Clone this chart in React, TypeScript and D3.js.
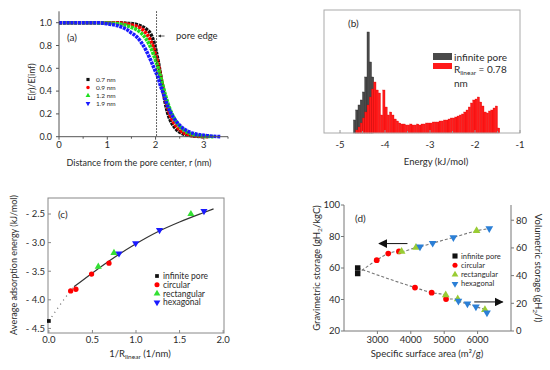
import React from 'react'
import * as d3 from 'd3'

// (a) E(r)/E(inf) against distance from pore center, [r (nm), ratio]
const profile07 = [[0, 1], [0.5, 1], [1, 1], [1.2, 1], [1.4, 0.995], [1.6, 0.985], [1.7, 0.97], [1.8, 0.945], [1.9, 0.9], [1.95, 0.85], [2, 0.77], [2.05, 0.67], [2.1, 0.55], [2.15, 0.42], [2.2, 0.3], [2.25, 0.21], [2.3, 0.15], [2.4, 0.08], [2.5, 0.04], [2.6, 0.02], [2.7, 0.012], [2.8, 0.006], [3.0, 0]]
const profile09 = [[0, 1], [0.5, 1], [1, 1], [1.3, 0.995], [1.5, 0.98], [1.6, 0.97], [1.7, 0.95], [1.8, 0.91], [1.9, 0.84], [1.95, 0.79], [2, 0.72], [2.05, 0.64], [2.1, 0.54], [2.15, 0.44], [2.2, 0.34], [2.25, 0.26], [2.3, 0.19], [2.4, 0.11], [2.5, 0.06], [2.6, 0.03], [2.7, 0.015], [2.8, 0.008], [3.0, 0.002], [3.1, 0]]
const profile12 = [[0, 1], [0.5, 1], [1.1, 0.995], [1.3, 0.985], [1.5, 0.96], [1.6, 0.94], [1.7, 0.91], [1.8, 0.86], [1.9, 0.78], [1.95, 0.73], [2, 0.67], [2.05, 0.61], [2.1, 0.53], [2.15, 0.45], [2.2, 0.37], [2.25, 0.3], [2.3, 0.24], [2.4, 0.15], [2.5, 0.09], [2.6, 0.055], [2.7, 0.03], [2.8, 0.017], [3.0, 0.005], [3.2, 0]]
const profile19 = [[0, 1], [0.8, 1], [1.0, 0.99], [1.2, 0.975], [1.4, 0.94], [1.5, 0.91], [1.6, 0.88], [1.7, 0.83], [1.8, 0.76], [1.9, 0.67], [1.95, 0.62], [2, 0.57], [2.05, 0.52], [2.1, 0.45], [2.15, 0.39], [2.2, 0.33], [2.25, 0.27], [2.3, 0.22], [2.4, 0.15], [2.5, 0.1], [2.6, 0.065], [2.7, 0.042], [2.8, 0.027], [3.0, 0.012], [3.2, 0.004], [3.35, 0]]
const poreLabels = ['0.7 nm', '0.9 nm', '1.2 nm', '1.9 nm']
const poreEdge = 2.02

// (b) energy histograms, bin width 0.05 kJ/mol
const binWidth = 0.05
const infiniteStart = -4.7
const infiniteCounts = [13, 23, 28, 33, 41, 56, 101, 71, 56]
const linearStart = -4.65
const linearCounts = [3, 6, 10, 15, 21, 28, 36, 44, 51, 43, 40, 18, 43, 26, 18, 21, 18, 14, 12, 10, 9, 9, 8, 8, 9, 8, 8, 9, 8, 9, 9, 10, 10, 10, 11, 11, 11, 12, 12, 13, 13, 14, 15, 15, 16, 17, 18, 19, 21, 23, 26, 30, 33, 34, 36, 31, 27, 21, 20, 22, 23, 25, 27, 5]

// (c) average adsorption energy vs 1/R_linear
const infC = [[0, -4.37]]
const circC = [[0.25, -3.845], [0.31, -3.815], [0.49, -3.55], [0.69, -3.36]]
const rectC = [[0.567, -3.42], [0.747, -3.18], [1.63, -2.5]]
const hexC = [[0.805, -3.19], [0.996, -3.01], [1.27, -2.78], [1.78, -2.45]]
const fitC = [[0.29, -3.77], [0.5, -3.53], [0.75, -3.26], [1.0, -3.02], [1.25, -2.81], [1.5, -2.64], [1.75, -2.49], [1.89, -2.41]]
const extrapC = [[0, -4.37], [0.1, -4.15], [0.2, -3.94], [0.29, -3.77]]

// (d) storage vs specific surface area
const gravInf = [[2410, 56.5]]
const gravCirc = [[2980, 65], [3325, 69.2], [3645, 70.5]]
const gravRect = [[3725, 70.5], [4155, 73], [5970, 83.6]]
const gravHex = [[4275, 73.5], [4655, 75.8], [5275, 79.4], [6350, 85.1]]
const volInf = [[2410, 45.5]]
const volCirc = [[4125, 31.4], [4625, 27.7], [5055, 23.1]]
const volRect = [[5045, 26], [5405, 23.1], [6220, 15.3]]
const volHex = [[5425, 21.6], [5695, 19.7], [5950, 17.5], [6280, 13.1]]
const shapeLabels = ['infinite pore', 'circular', 'rectangular', 'hexagonal']

const FONT = 'Lato, "Open Sans", sans-serif'
const TXT = '#2b2b2b'

const symPath = (kind: string, size: number) => {
  const type = kind === 'square' ? d3.symbolSquare : kind === 'circle' ? d3.symbolCircle : d3.symbolTriangle
  return d3.symbol().type(type).size(size)() as string
}

const Marker = ({ kind, x, y, size, fill }: any) => (
  <path d={symPath(kind, size)} fill={fill}
    transform={`translate(${x},${y})${kind === 'down' ? ' rotate(180)' : ''}`} />
)

const PanelA = () => {
  const x = d3.scaleLinear([0, 3.5], [59, 228])
  const y = d3.scaleLinear([0, 1.1], [136.7, 11.3])
  const line = d3.line<number[]>().x(d => x(d[0])).y(d => y(d[1])).curve(d3.curveMonotoneX)
  const series = [
    { data: profile07, color: '#111', kind: 'square' },
    { data: profile09, color: '#f00', kind: 'circle' },
    { data: profile12, color: '#1ee01e', kind: 'up' },
    { data: profile19, color: '#1a1aff', kind: 'down' },
  ]
  return (
    <g fontFamily={FONT} fill={TXT}>
      {series.map((s, i) => (
        <path key={i} d={line(s.data as any) as string} fill="none" stroke={s.color}
          strokeWidth={3.6} strokeDasharray="3 0.8" />
      ))}
      <line x1={x(poreEdge)} x2={x(poreEdge)} y1={y(1.1)} y2={y(0)} stroke="#333" strokeWidth={1} strokeDasharray="1.5 1.5" />
      <line x1={x(poreEdge) + 8} x2={x(poreEdge) + 2} y1={36} y2={36} stroke="#333" strokeWidth={0.8} markerEnd="url(#headSmall)" />
      <text x={176} y={39} fontSize={9.5}>pore edge</text>
      <text x={67} y={41} fontSize={10}>(a)</text>
      <line x1={59} x2={59} y1={y(1.1)} y2={y(0)} stroke="#555" />
      <line x1={59} x2={228} y1={y(0)} y2={y(0)} stroke="#555" />
      {d3.range(0, 3.51, 0.5).map(t => (
        <line key={t} x1={x(t)} x2={x(t)} y1={y(0)} y2={y(0) + (t % 1 === 0 ? 3 : 2)} stroke="#555" />
      ))}
      {[0, 1, 2, 3].map(t => (
        <text key={t} x={x(t)} y={148} fontSize={9.5} textAnchor="middle">{t}</text>
      ))}
      {d3.range(0, 1.01, 0.2).map(t => (
        <g key={t}>
          <line x1={56} x2={59} y1={y(t)} y2={y(t)} stroke="#555" />
          <text x={52} y={y(t) + 3.2} fontSize={9} textAnchor="end">{t.toFixed(1)}</text>
        </g>
      ))}
      <text transform="translate(35,82) rotate(-90)" fontSize={9} textAnchor="middle">E(r)/E(inf)</text>
      <text x={139} y={166} fontSize={9} textAnchor="middle">Distance from the pore center, r (nm)</text>
      {series.map((s, i) => (
        <g key={i}>
          <Marker kind={s.kind} x={88} y={79.5 + i * 8} size={10} fill={s.color} />
          <text x={96} y={82 + i * 8} fontSize={6.5}>{poreLabels[i]}</text>
        </g>
      ))}
    </g>
  )
}

const PanelB = () => {
  const x = d3.scaleLinear([-5.356, -1], [324, 520])
  const y = d3.scaleLinear([0, 123], [133, 10])
  const w = x(binWidth) - x(0)
  return (
    <g fontFamily={FONT} fill={TXT}>
      {infiniteCounts.map((c, i) => (
        <rect key={'g' + i} x={x(infiniteStart + i * binWidth)} y={y(c)} width={w} height={y(0) - y(c)}
          fill="#4a4a4a" stroke="#2a2a2a" strokeWidth={0.4} />
      ))}
      {linearCounts.map((c, i) => (
        <rect key={'r' + i} x={x(linearStart + i * binWidth)} y={y(c)} width={w} height={y(0) - y(c)}
          fill="#ff1a1a" stroke="#e00000" strokeWidth={0.3} />
      ))}
      <rect x={324} y={10} width={196} height={123} fill="none" stroke="#aaa" />
      {d3.range(-5, -0.99, 0.5).map(t => (
        <line key={t} x1={x(t)} x2={x(t)} y1={133} y2={133 - (Number.isInteger(t) ? 3 : 2)} stroke="#999" />
      ))}
      {[-5, -4, -3, -2, -1].map(t => (
        <text key={t} x={x(t)} y={148} fontSize={9.5} textAnchor="middle">{t}</text>
      ))}
      <text x={348} y={27} fontSize={10}>(b)</text>
      <text x={436} y={165} fontSize={9.5} textAnchor="middle">Energy (kJ/mol)</text>
      <rect x={433} y={53} width={19} height={7} fill="#4a4a4a" />
      <rect x={433} y={63} width={19} height={6} fill="#ff1a1a" />
      <text x={454} y={61} fontSize={10}>infinite pore</text>
      <text x={454} y={73} fontSize={10}>R<tspan fontSize={6.5} dy={2}>linear</tspan><tspan dy={-2}> = 0.78</tspan></text>
      <text x={454} y={87} fontSize={10}>nm</text>
    </g>
  )
}

const PanelC = () => {
  const x = d3.scaleLinear([-0.01, 2.01], [48, 224])
  const y = d3.scaleLinear([-4.58, -2.22], [333, 198])
  const line = d3.line<number[]>().x(d => x(d[0])).y(d => y(d[1])).curve(d3.curveMonotoneX)
  const groups = [
    { data: infC, color: '#111', kind: 'square' },
    { data: circC, color: '#f00', kind: 'circle' },
    { data: rectC, color: '#33e033', kind: 'up' },
    { data: hexC, color: '#1a1aff', kind: 'down' },
  ]
  return (
    <g fontFamily={FONT} fill={TXT}>
      <rect x={48} y={198} width={176} height={135} fill="none" stroke="#888" />
      <path d={line(extrapC as any) as string} fill="none" stroke="#666" strokeWidth={1.2} strokeDasharray="1 4" />
      <path d={line(fitC as any) as string} fill="none" stroke="#333" strokeWidth={1.2} />
      {groups.map((g, i) => g.data.map((d, j) => (
        <Marker key={i + '-' + j} kind={g.kind} x={x(d[0])} y={y(d[1])} size={g.kind === 'square' ? 14 : 22} fill={g.color} />
      )))}
      {[0, 0.5, 1, 1.5, 2].map(t => (
        <g key={t}>
          <line x1={x(t)} x2={x(t)} y1={333} y2={330} stroke="#888" />
          <text x={x(t)} y={343} fontSize={9.5} textAnchor="middle">{t.toFixed(1)}</text>
        </g>
      ))}
      {[-2.5, -3, -3.5, -4, -4.5].map(t => (
        <g key={t}>
          <line x1={48} x2={51} y1={y(t)} y2={y(t)} stroke="#888" />
          <text x={45} y={y(t) + 3.3} fontSize={9.5} textAnchor="end">{'- ' + Math.abs(t).toFixed(1)}</text>
        </g>
      ))}
      <text x={58} y={218} fontSize={10}>(c)</text>
      <text transform="translate(17,265) rotate(-90)" fontSize={9} textAnchor="middle">Average adsorption energy (kJ/mol)</text>
      <text x={140} y={357} fontSize={9.5} textAnchor="middle">1/R<tspan fontSize={6.5} dy={2}>linear</tspan><tspan dy={-2}> (1/nm)</tspan></text>
      {groups.map((g, i) => (
        <g key={i}>
          <Marker kind={g.kind} x={157} y={276 + i * 8.8} size={g.kind === 'square' ? 14 : 20} fill={g.color} />
          <text x={163} y={279 + i * 8.8} fontSize={8.5}>{shapeLabels[i]}</text>
        </g>
      ))}
    </g>
  )
}

const PanelD = () => {
  const x = d3.scaleLinear([2000, 7000], [344, 511])
  const yL = d3.scaleLinear([20, 100], [331, 205])
  const yR = d3.scaleLinear([0, 91], [331, 205])
  const green = '#99cc33'
  const blue = '#2b7fd6'
  const grav = [
    { data: gravInf, color: '#111', kind: 'square' },
    { data: gravCirc, color: '#f00', kind: 'circle' },
    { data: gravRect, color: green, kind: 'up' },
    { data: gravHex, color: blue, kind: 'down' },
  ]
  const vol = [
    { data: volInf, color: '#111', kind: 'square' },
    { data: volCirc, color: '#f00', kind: 'circle' },
    { data: volRect, color: green, kind: 'up' },
    { data: volHex, color: blue, kind: 'down' },
  ]
  const gravAll = grav.flatMap(g => g.data).sort((a, b) => a[0] - b[0])
  const volAll = vol.flatMap(g => g.data).sort((a, b) => a[0] - b[0])
  const lineL = d3.line<number[]>().x(d => x(d[0])).y(d => yL(d[1])).curve(d3.curveMonotoneX)
  const lineR = d3.line<number[]>().x(d => x(d[0])).y(d => yR(d[1])).curve(d3.curveMonotoneX)
  return (
    <g fontFamily={FONT} fill={TXT}>
      <line x1={344} x2={344} y1={205} y2={331} stroke="#777" />
      <line x1={511} x2={511} y1={205} y2={331} stroke="#777" />
      <line x1={344} x2={511} y1={331} y2={331} stroke="#777" />
      <path d={lineL(gravAll) as string} fill="none" stroke="#777" strokeWidth={1.1} strokeDasharray="3 2" />
      <path d={lineR(volAll) as string} fill="none" stroke="#777" strokeWidth={1.1} strokeDasharray="3 2" />
      {grav.map((g, i) => g.data.map((d, j) => (
        <Marker key={'g' + i + j} kind={g.kind} x={x(d[0])} y={yL(d[1])} size={g.kind === 'square' ? 30 : 26} fill={g.color} />
      )))}
      {vol.map((g, i) => g.data.map((d, j) => (
        <Marker key={'v' + i + j} kind={g.kind} x={x(d[0])} y={yR(d[1])} size={g.kind === 'square' ? 30 : 26} fill={g.color} />
      )))}
      <line x1={x(3900)} x2={x(3050)} y1={yL(75.5)} y2={yL(75.5)} stroke="#111" strokeWidth={1} markerEnd="url(#headBig)" />
      <line x1={x(5900)} x2={x(6750)} y1={yR(21)} y2={yR(21)} stroke="#111" strokeWidth={1} markerEnd="url(#headBig)" />
      {[3000, 4000, 5000, 6000].map(t => (
        <g key={t}>
          <line x1={x(t)} x2={x(t)} y1={331} y2={334} stroke="#777" />
          <text x={x(t)} y={343} fontSize={9.5} textAnchor="middle">{t}</text>
        </g>
      ))}
      {[20, 40, 60, 80, 100].map(t => (
        <g key={t}>
          <line x1={341} x2={344} y1={yL(t)} y2={yL(t)} stroke="#777" />
          <text x={340} y={yL(t) + 3.3} fontSize={9.5} textAnchor="end">{t}</text>
        </g>
      ))}
      {[0, 20, 40, 60, 80].map(t => (
        <g key={t}>
          <line x1={511} x2={514} y1={yR(t)} y2={yR(t)} stroke="#777" />
          <text x={516} y={yR(t) + 3.3} fontSize={9.5}>{t}</text>
        </g>
      ))}
      <text x={355} y={222} fontSize={10}>(d)</text>
      <text transform="translate(320,268) rotate(-90)" fontSize={9.5} textAnchor="middle">Gravimetric storage (gH<tspan fontSize={6.5} dy={2}>2</tspan><tspan dy={-2}>/kgC)</tspan></text>
      <text transform="translate(535,268) rotate(90)" fontSize={9.5} textAnchor="middle">Volumetric storage (gH<tspan fontSize={6.5} dy={2}>2</tspan><tspan dy={-2}>/l)</tspan></text>
      <text x={427} y={357} fontSize={9.5} textAnchor="middle">Specific surface area  (m²/g)</text>
      {grav.map((g, i) => (
        <g key={i}>
          <Marker kind={g.kind} x={455} y={256 + i * 9.3} size={g.kind === 'square' ? 26 : 20} fill={g.color} />
          <text x={461} y={258.5 + i * 9.3} fontSize={7.5}>{shapeLabels[i]}</text>
        </g>
      ))}
    </g>
  )
}

export default function App() {
  return (
    <svg width={550} height={370} style={{ position: 'absolute', left: 0, top: 0, background: '#fff' }}>
      <defs>
        <marker id="headSmall" viewBox="0 0 6 6" refX={5} refY={3} markerWidth={4} markerHeight={4} orient="auto">
          <path d="M0,0 L6,3 L0,6 z" fill="#333" />
        </marker>
        <marker id="headBig" viewBox="0 0 10 10" refX={9} refY={5} markerWidth={9} markerHeight={9} markerUnits="userSpaceOnUse" orient="auto">
          <path d="M0,0 L10,5 L0,10 z" fill="#111" />
        </marker>
      </defs>
      <rect width={550} height={370} fill="#fff" />
      <PanelA />
      <PanelB />
      <PanelC />
      <PanelD />
    </svg>
  )
}
